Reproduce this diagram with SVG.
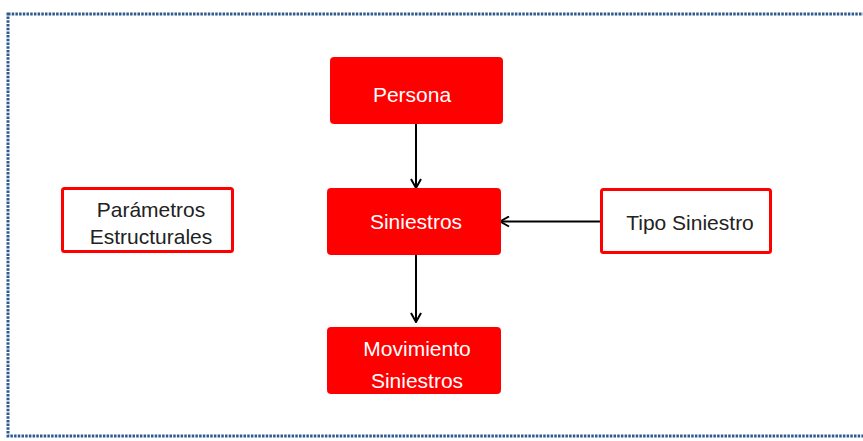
<svg xmlns="http://www.w3.org/2000/svg" width="863" height="441" viewBox="0 0 863 441">
<defs>
<style>
.frame{fill:none;stroke:#2e5a8e;stroke-width:3;stroke-dasharray:2.5 1.2}
.red{fill:#ff0000;stroke:#ff0000;stroke-width:1}
.white{fill:#ffffff;stroke:#ff0000;stroke-width:3}
.tw{font-family:"Liberation Sans",Arial,sans-serif;font-size:21px;fill:#ffffff;text-anchor:middle}
.tb{font-family:"Liberation Sans",Arial,sans-serif;font-size:21px;fill:#222222;text-anchor:middle}
.edge{fill:none;stroke:#000000;stroke-width:2}
</style>
<marker id="arr" viewBox="0 0 12 12" refX="11" refY="6" markerWidth="12" markerHeight="12" markerUnits="userSpaceOnUse" orient="auto">
<path d="M2,1 L11,6 L2,11" fill="none" stroke="#000" stroke-width="2"/>
</marker>
</defs>
<rect width="863" height="441" fill="#ffffff"/>
<rect class="frame" x="8" y="14" width="870" height="422"/>
<g id="connectors">
<line class="edge" x1="416" y1="124" x2="416" y2="188" marker-end="url(#arr)"/>
<line class="edge" x1="416" y1="255" x2="416" y2="322" marker-end="url(#arr)"/>
<line class="edge" x1="601" y1="221.5" x2="500" y2="221.5" marker-end="url(#arr)"/>
</g>
<g id="persona">
<rect class="red" x="330.5" y="57.5" width="172" height="66" rx="3"/>
<text class="tw" x="412" y="102">Persona</text>
</g>
<g id="siniestros">
<rect class="red" x="327.5" y="188.5" width="173" height="66" rx="3"/>
<text class="tw" x="416" y="229">Siniestros</text>
</g>
<g id="movimiento">
<rect class="red" x="327.5" y="327.5" width="173" height="66" rx="3"/>
<text class="tw" x="417" y="356">Movimiento</text>
<text class="tw" x="417" y="388">Siniestros</text>
</g>
<g id="parametros">
<rect class="white" x="62.5" y="188.5" width="170" height="63" rx="2"/>
<text class="tb" x="151" y="217">Parámetros</text>
<text class="tb" x="151" y="244">Estructurales</text>
</g>
<g id="tipo">
<rect class="white" x="601.5" y="189.5" width="169" height="63" rx="2"/>
<text class="tb" x="690" y="230">Tipo Siniestro</text>
</g>
</svg>
